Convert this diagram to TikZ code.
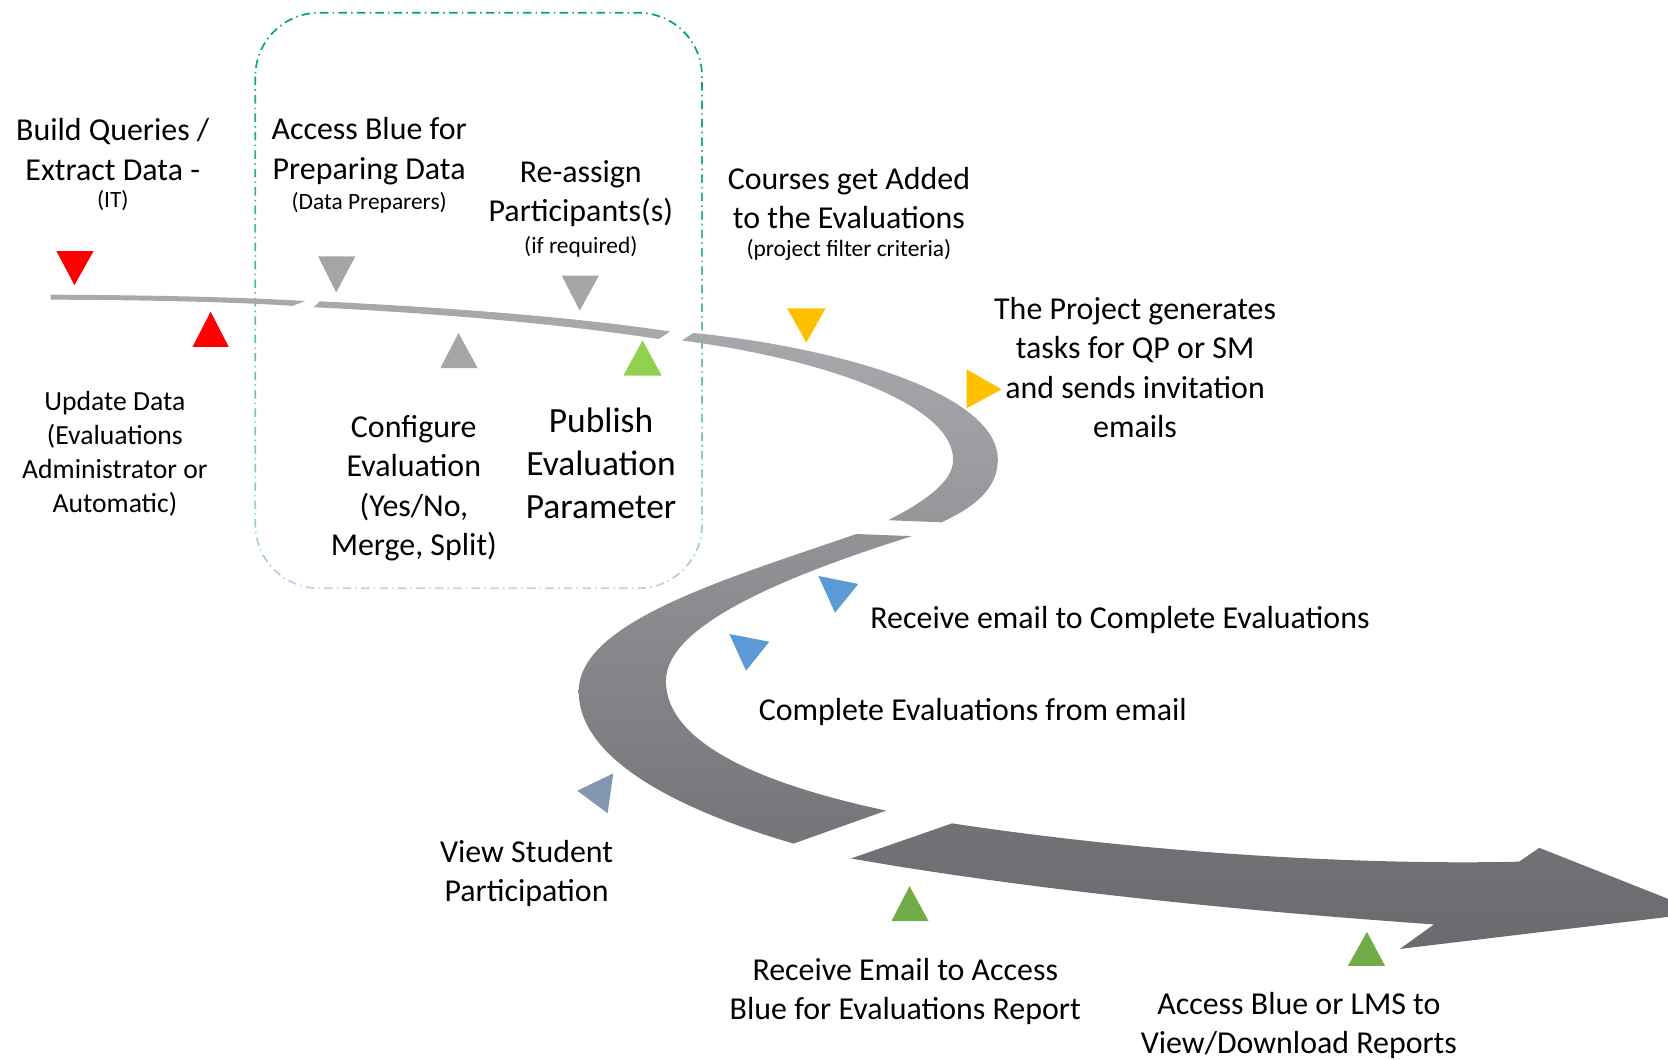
\documentclass[tikz,border=0pt]{standalone}
\usepackage{fontspec}
\setmainfont{Carlito}
\usepackage{tikz}

\definecolor{redtri}{RGB}{255,0,0}
\definecolor{graytri}{RGB}{165,165,165}
\definecolor{limetri}{RGB}{146,208,80}
\definecolor{goldtri}{RGB}{255,192,0}
\definecolor{bluetri}{RGB}{91,155,213}
\definecolor{slatetri}{RGB}{132,151,176}
\definecolor{leaftri}{RGB}{112,173,71}
\definecolor{boxgreen}{RGB}{0,168,90}
\definecolor{boxblue}{RGB}{184,212,238}

\begin{document}
\begin{tikzpicture}[x=0.75pt,y=0.75pt,yscale=-1,xscale=1,
  lbl/.style={inner sep=0.75pt, align=center, font=\fontsize{22.5}{27.75}\selectfont},
  note/.style={inner sep=0.75pt, align=center, font=\fontsize{16.5}{20}\selectfont},
  boxline/.style={line width=1.2pt, dash pattern=on 6pt off 3pt on 1pt off 3pt, rounded corners=45pt}]
\useasboundingbox (0,0) rectangle (1568,996);
\clip (0,0) rectangle (1568,996);

%Rounded Rect (dash dot, green to blue)
\foreach \k in {0,...,13} {
  \pgfmathsetmacro{\mixv}{100-\k*100/13}
  \begin{scope}
    \clip (220,{\k*42}) rectangle (680,{(\k+1)*42});
    \draw [boxline, draw=boxgreen!\mixv!boxblue] (240,12) rectangle (660,553);
  \end{scope}
}

%Shape: Road part 1
\draw [draw=none, fill={rgb,255:red,168;green,169;blue,173}] (47.5,277) .. controls (150,277.5) and (230,279.5) .. (287,283) -- (275,287.5) .. controls (230,284.5) and (150,282) .. (47.5,281.7) -- cycle ;
%Shape: Road part 2
\draw [draw=none, fill={rgb,255:red,167;green,168;blue,172}] (300.7,283.3) .. controls (420,289) and (540,298) .. (629.8,311.6) -- (619.2,318.7) .. controls (530,305) and (420,295) .. (294.8,288.8) -- cycle ;
%Shape: Road part 3
\draw [draw=none, top color={rgb,255:red,167;green,168;blue,171}, bottom color={rgb,255:red,150;green,151;blue,155}] (652,313) .. controls (790,327) and (938,370) .. (938,432) .. controls (938,458) and (918,476) .. (885,491) -- (835,489) .. controls (872,470) and (896,452) .. (896,432) .. controls (896,384) and (790,340) .. (641,320) -- cycle ;
%Shape: Road part 4
\draw [draw=none, top color={rgb,255:red,146;green,147;blue,151}, bottom color={rgb,255:red,116;green,117;blue,121}] (805,502) .. controls (680,545) and (544,585) .. (544,650) .. controls (544,718) and (650,765) .. (746,793) -- (833,762) .. controls (720,738) and (626,700) .. (626,640) .. controls (626,585) and (750,538) .. (857,504) -- cycle ;
%Shape: Road arrow
\draw [draw=none, top color={rgb,255:red,114;green,115;blue,119}, bottom color={rgb,255:red,106;green,107;blue,111}] (800,807) -- (895,774) .. controls (1100,805) and (1300,813) .. (1428,810) -- (1447,797) -- (1601,858) -- (1316,892) -- (1348,869) .. controls (1150,855) and (960,835) .. (800,807) -- cycle ;

%Shape: Triangle
\draw [draw=none, fill=redtri] (53,236) -- (88,236) -- (70,268) -- cycle ;
%Shape: Triangle
\draw [draw=none, fill=redtri] (181,326) -- (215,326) -- (198,293) -- cycle ;
%Shape: Triangle
\draw [draw=none, fill=graytri] (299,241) -- (334,241) -- (316,275) -- cycle ;
%Shape: Triangle
\draw [draw=none, fill=graytri] (414,346) -- (449,346) -- (431,313) -- cycle ;
%Shape: Triangle
\draw [draw=none, fill=graytri] (528,259) -- (563,259) -- (545,292) -- cycle ;
%Shape: Triangle
\draw [draw=none, fill=limetri] (586,353) -- (622,353) -- (604,320) -- cycle ;
%Shape: Triangle
\draw [draw=none, fill=goldtri] (740,290) -- (776,290) -- (758,322) -- cycle ;
%Shape: Triangle
\draw [draw=none, fill=goldtri] (908.7,347.2) -- (941.6,366) -- (908.7,383.8) -- cycle ;
%Shape: Triangle
\draw [draw=none, fill=bluetri] (769.3,541.4) -- (806.8,549) -- (784.9,576) -- cycle ;
%Shape: Triangle
\draw [draw=none, fill=bluetri] (685.6,596) -- (723.2,603.2) -- (701.3,630.5) -- cycle ;
%Shape: Triangle
\draw [draw=none, fill=slatetri] (542.7,743.3) -- (576.5,727) -- (571.2,764.5) -- cycle ;
%Shape: Triangle
\draw [draw=none, fill=leaftri] (838,866) -- (873,866) -- (855,833) -- cycle ;
%Shape: Triangle
\draw [draw=none, fill=leaftri] (1267,908) -- (1302,908) -- (1285,876) -- cycle ;

% Text Node
\draw (106,140.5) node [lbl] (build) {Build Queries /\\Extract Data -};
% Text Node
\draw (106,189) node [note] (buildnote) {(IT)};
% Text Node
\draw (347,142) node [lbl] (access) {Access Blue for\\Preparing Data};
% Text Node
\draw (347,191) node [note] (accessnote) {(Data Preparers)};
% Text Node
\draw (546,182) node [lbl] (reassign) {Re-assign\\Participants(s)};
% Text Node
\draw (546,232) node [note] (reassignnote) {(if required)};
% Text Node
\draw (798,186) node [lbl] (courses) {Courses get Added\\to the Evaluations};
% Text Node
\draw (798,235) node [note] (coursesnote) {(project filter criteria)};
% Text Node
\draw (1067,345.5) node [lbl] (project) {The Project generates\\tasks for QP or SM\\and sends invitation\\emails};
% Text Node
\draw (108,426.5) node [lbl, font=\fontsize{19.5}{23.8}\selectfont] (update) {Update Data\\(Evaluations\\Administrator or\\Automatic)};
% Text Node
\draw (389,459) node [lbl] (configure) {Configure\\Evaluation\\(Yes/No,\\Merge, Split)};
% Text Node
\draw (565,435.5) node [lbl, font=\fontsize{25}{30.4}\selectfont] (publish) {Publish\\Evaluation\\Parameter};
% Text Node
\draw (817,583) node [lbl, anchor=west] (receive) {Receive email to Complete Evaluations};
% Text Node
\draw (712,669) node [lbl, anchor=west] (complete) {Complete Evaluations from email};
% Text Node
\draw (495,821) node [lbl] (viewstud) {View Student\\Participation};
% Text Node
\draw (851,932) node [lbl] (recvmail) {Receive Email to Access\\Blue for Evaluations Report};
% Text Node
\draw (1221,964) node [lbl] (reports) {Access Blue or LMS to\\View/Download Reports};

\end{tikzpicture}
\end{document}
